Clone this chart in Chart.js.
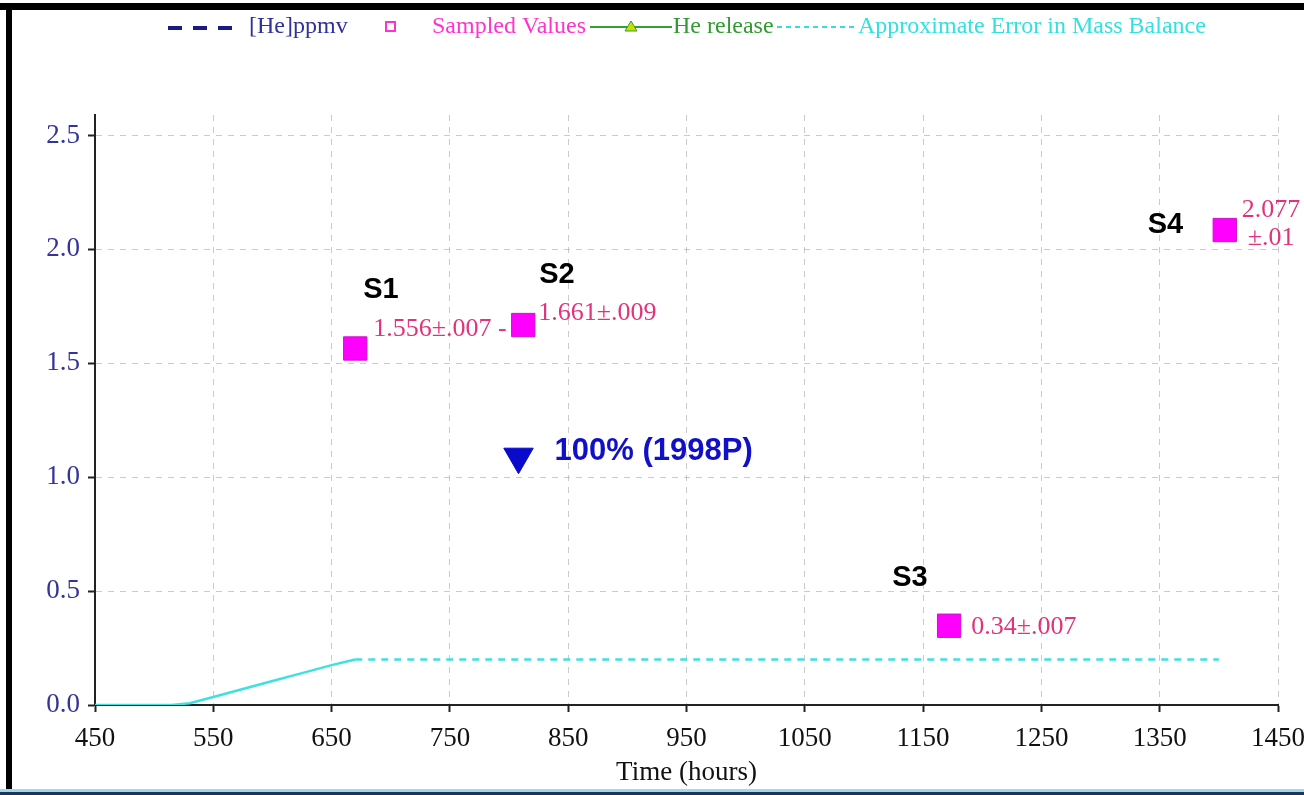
<!DOCTYPE html>
<html>
<head>
<meta charset="utf-8">
<title>Helium release sampling</title>
<script src="https://cdn.jsdelivr.net/npm/chart.js@4.4.0/dist/chart.umd.min.js"></script>
<style>
  html, body { margin: 0; padding: 0; background: #fff; }
  #wrap { width: 1304px; height: 795px; }
</style>
</head>
<body>
<div id="wrap"><canvas id="heChart" width="1304" height="795"></canvas></div>
<script>
const sampleHours = [670, 812, 1172, 1405];
const sampleValues = [1.565, 1.668, 0.348, 2.085];
const sampleNames = ['S1', 'S2', 'S3', 'S4'];
const sampleLabels = [['1.556±.007 -'], ['1.661±.009'], ['0.34±.007'], ['2.077', '±.01']];

// Approximate error in mass balance (solid up to 670 h, dashed after)
const errorHours = [450, 515, 530, 550, 575, 600, 625, 650, 670, 1400];
const errorValues = [0, 0, 0.008, 0.035, 0.07, 0.105, 0.14, 0.175, 0.2, 0.2];

// 100% release marker
const releaseHours = [808];
const releaseValues = [1.09];
const releaseLabel = '100% (1998P)';

const xTicks = [450, 550, 650, 750, 850, 950, 1050, 1150, 1250, 1350, 1450];
const yTicks = [0, 0.5, 1.0, 1.5, 2.0, 2.5];

const legendNames = ['[He]ppmv', 'Sampled Values', 'He release', 'Approximate Error in Mass Balance'];

const SERIF = '"Liberation Serif", "Times New Roman", serif';
const SANS = '"Liberation Sans", Arial, sans-serif';

// label placement relative to each sample square (pixels)
const nameOffsets = [[8, -58], [16, -50], [-57, -48], [-77, -5]];
const valueOffsets = [[[18, -19]], [[15, -12]], [[22, 1]], [[17, -20], [23, 8]]];

function toPoints(xs, ys) {
    return xs.map((x, i) => ({ x: x, y: ys[i] }));
}

const annotations = {
    id: 'annotations',
    beforeDraw(chart) {
        const ctx = chart.ctx;
        ctx.save();
        ctx.fillStyle = '#ffffff';
        ctx.fillRect(0, 0, chart.width, chart.height);
        // frame of the scanned figure
        ctx.fillStyle = '#000';
        ctx.fillRect(0, 3, chart.width, 7);
        ctx.fillRect(6, 3, 6, chart.height - 8);
        ctx.fillStyle = '#9fd8f5';
        ctx.fillRect(0, 789, chart.width, 3);
        ctx.fillStyle = '#1d3557';
        ctx.fillRect(0, 792, chart.width, 3);
        ctx.restore();
    },
    afterDatasetsDraw(chart) {
        const ctx = chart.ctx;
        ctx.save();
        ctx.textBaseline = 'middle';
        ctx.textAlign = 'left';

        const samples = chart.getDatasetMeta(1).data;
        samples.forEach((pt, i) => {
            ctx.fillStyle = '#000';
            ctx.font = 'bold 29px ' + SANS;
            ctx.fillText(sampleNames[i], pt.x + nameOffsets[i][0], pt.y + nameOffsets[i][1]);
            ctx.fillStyle = '#e0337a';
            ctx.font = '26px ' + SERIF;
            sampleLabels[i].forEach((line, j) => {
                ctx.fillText(line, pt.x + valueOffsets[i][j][0], pt.y + valueOffsets[i][j][1]);
            });
        });

        const marker = chart.getDatasetMeta(2).data[0];
        ctx.fillStyle = '#1010c8';
        ctx.font = 'bold 31px ' + SANS;
        ctx.fillText(releaseLabel, marker.x + 36, marker.y - 5);
        ctx.restore();
    },
    afterDraw(chart) {
        // legend strip along the top
        const ctx = chart.ctx;
        const y = 27;
        ctx.save();
        ctx.textBaseline = 'middle';
        ctx.font = '24px ' + SERIF;

        ctx.fillStyle = '#1a1a80';
        [168, 193, 218].forEach(x => ctx.fillRect(x, y - 1, 14, 4));
        ctx.fillStyle = '#30309a';
        ctx.fillText(legendNames[0], 249, y);

        ctx.strokeStyle = '#ff33cc';
        ctx.lineWidth = 2;
        ctx.strokeRect(386, y - 5, 9, 9);
        ctx.fillStyle = '#ff33cc';
        ctx.fillText(legendNames[1], 432, y);

        ctx.strokeStyle = '#33a033';
        ctx.lineWidth = 2;
        ctx.beginPath();
        ctx.moveTo(590, y);
        ctx.lineTo(672, y);
        ctx.stroke();
        ctx.fillStyle = '#c8e000';
        ctx.beginPath();
        ctx.moveTo(631, y - 6);
        ctx.lineTo(637, y + 4);
        ctx.lineTo(625, y + 4);
        ctx.closePath();
        ctx.fill();
        ctx.lineWidth = 1;
        ctx.stroke();
        ctx.fillStyle = '#339933';
        ctx.fillText(legendNames[2], 673, y);

        ctx.strokeStyle = '#33dede';
        ctx.lineWidth = 2;
        ctx.setLineDash([5, 4]);
        ctx.beginPath();
        ctx.moveTo(777, y);
        ctx.lineTo(855, y);
        ctx.stroke();
        ctx.setLineDash([]);
        ctx.fillStyle = '#33e0e0';
        ctx.fillText(legendNames[3], 858, y);
        ctx.restore();
    }
};

const tickFilter = values => scale => {
    scale.ticks = values.map(v => ({ value: v }));
};

new Chart(document.getElementById('heChart'), {
    type: 'scatter',
    data: {
        datasets: [
            {
                label: legendNames[3],
                data: toPoints(errorHours, errorValues),
                showLine: true,
                borderColor: '#3ee0e0',
                borderWidth: 2.5,
                pointRadius: 0,
                fill: false,
                segment: {
                    borderDash: ctx => ctx.p0.parsed.x >= 670 ? [7, 6] : undefined
                }
            },
            {
                label: legendNames[1],
                data: toPoints(sampleHours, sampleValues),
                pointStyle: 'rect',
                pointRadius: 16.5,
                backgroundColor: '#ff00ff',
                borderColor: '#cc10cc',
                borderWidth: 1
            },
            {
                label: releaseLabel,
                data: toPoints(releaseHours, releaseValues),
                pointStyle: 'triangle',
                rotation: 180,
                pointRadius: 17,
                backgroundColor: '#0a0acc',
                borderColor: '#0a0acc',
                borderWidth: 1
            }
        ]
    },
    options: {
        responsive: false,
        animation: false,
        layout: { padding: { top: 115, right: 26, left: 0, bottom: 0 } },
        plugins: {
            legend: { display: false },
            tooltip: { enabled: false }
        },
        scales: {
            x: {
                type: 'linear',
                min: 450,
                max: 1450,
                afterBuildTicks: tickFilter(xTicks),
                afterFit: scale => { scale.height = 90; scale.paddingRight = 0; scale.paddingLeft = 0; },
                border: { color: '#222', width: 2, dash: [6, 6] },
                grid: { color: 'rgba(160,160,160,0.55)', lineWidth: 1, tickColor: '#222', tickLength: 7, tickWidth: 2, tickBorderDash: [] },
                ticks: { color: '#111', padding: 11, font: { family: SERIF, size: 27 }, maxRotation: 0, callback: v => String(v) },
                title: { display: true, text: 'Time (hours)', color: '#111', font: { family: SERIF, size: 27 }, padding: { top: 0, bottom: 6 } }
            },
            y: {
                type: 'linear',
                min: 0,
                max: 2.59,
                afterBuildTicks: tickFilter(yTicks),
                afterFit: scale => { scale.width = 95; },
                border: { color: '#222', width: 2, dash: [6, 6] },
                grid: { color: 'rgba(160,160,160,0.55)', lineWidth: 1, tickColor: '#222', tickLength: 7, tickWidth: 2, tickBorderDash: [] },
                ticks: { color: '#33339a', padding: 8, font: { family: SERIF, size: 27 }, callback: v => v.toFixed(1) }
            }
        }
    },
    plugins: [annotations]
});
</script>
</body>
</html>
